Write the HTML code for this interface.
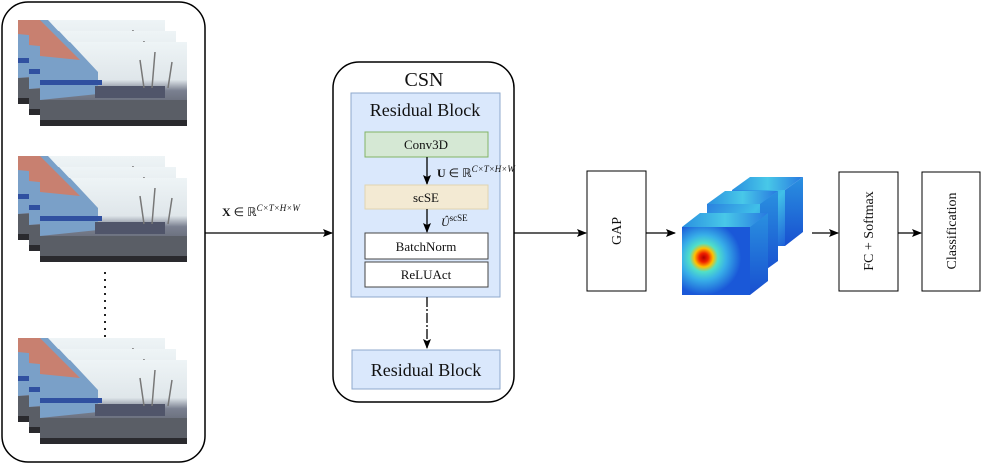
<!DOCTYPE html>
<html><head><meta charset="utf-8"><style>
html,body{margin:0;padding:0;background:#fff}
svg{display:block}
text{font-family:"Liberation Serif",serif;fill:#111}
</style></head><body>
<svg width="982" height="464" viewBox="0 0 982 464" xmlns="http://www.w3.org/2000/svg">
<defs>
<linearGradient id="sky" x1="0" y1="0" x2="0" y2="1">
<stop offset="0" stop-color="#eef4f6"/><stop offset="0.45" stop-color="#dfe6ea"/><stop offset="0.58" stop-color="#7a8090"/><stop offset="1" stop-color="#4a4d55"/>
</linearGradient>
<radialGradient id="hot" cx="0.32" cy="0.45" r="0.55">
<stop offset="0" stop-color="#b00000"/><stop offset="0.12" stop-color="#f02000"/><stop offset="0.25" stop-color="#ffc000"/><stop offset="0.38" stop-color="#50e0c8"/><stop offset="0.6" stop-color="#38b0e8"/><stop offset="1" stop-color="#1a58d8"/>
</radialGradient>
<linearGradient id="cf" x1="0" y1="0" x2="1" y2="1">
<stop offset="0" stop-color="#2a80e0"/><stop offset="0.5" stop-color="#40c0e8"/><stop offset="1" stop-color="#1e60d8"/>
</linearGradient>
<linearGradient id="ct" x1="0" y1="0" x2="1" y2="0">
<stop offset="0" stop-color="#2a90e0"/><stop offset="0.5" stop-color="#48c8e8"/><stop offset="1" stop-color="#2878e0"/>
</linearGradient>
<linearGradient id="cs" x1="0" y1="0" x2="0" y2="1">
<stop offset="0" stop-color="#2a90e0"/><stop offset="1" stop-color="#1850d0"/>
</linearGradient>
<g id="img">
<rect width="147" height="84" fill="url(#sky)"/>
<polygon points="0,0 30,0 58,30 58,52 0,58" fill="#7aa0c8"/>
<polygon points="0,0 22,0 40,18 0,14" fill="#c88070"/>
<rect x="0" y="38" width="62" height="5" fill="#3050a0"/>
<rect x="55" y="44" width="70" height="12" fill="#50556a"/>
<rect x="0" y="58" width="147" height="22" fill="#5a5e66"/>
<rect x="0" y="78" width="147" height="6" fill="#2a2a2e"/>
<path d="M100 18 L104 46 M115 10 L112 46 M132 20 L128 46" stroke="#777" stroke-width="1.5"/>
</g>
<g id="stack">
<use href="#img" x="18" y="0"/><use href="#img" x="29" y="11"/><use href="#img" x="40" y="22"/>
</g>
<marker id="ar" markerWidth="10" markerHeight="8" refX="9" refY="4" orient="auto" markerUnits="userSpaceOnUse">
<path d="M0,0 L10,4 L0,8 L2,4 z" fill="#000"/></marker>
</defs>

<rect x="2" y="2" width="203" height="460" rx="26" fill="#fff" stroke="#000" stroke-width="1.5"/>
<use href="#stack" y="20"/>
<use href="#stack" y="156"/>
<use href="#stack" y="338"/>
<line x1="105" y1="272" x2="105" y2="338" stroke="#222" stroke-width="2" stroke-dasharray="2,5"/>

<line x1="205" y1="233" x2="332" y2="233" stroke="#000" stroke-width="1.3" marker-end="url(#ar)"/>
<text x="222" y="216" font-size="12"><tspan font-weight="bold">X</tspan> ∈ ℝ<tspan font-size="9" dy="-5" font-style="italic">C×T×H×W</tspan></text>

<rect x="333" y="62" width="181" height="340" rx="26" fill="#fff" stroke="#000" stroke-width="1.5"/>
<text x="424" y="86" font-size="20" text-anchor="middle">CSN</text>
<rect x="351" y="93" width="149" height="204" fill="#dae8fc" stroke="#8fa9cc" stroke-width="1"/>
<text x="425" y="116" font-size="18" text-anchor="middle">Residual Block</text>
<rect x="365" y="132" width="123" height="25" fill="#d5e8d4" stroke="#82b366"/>
<text x="426" y="149" font-size="13" text-anchor="middle">Conv3D</text>
<line x1="427" y1="157" x2="427" y2="184" stroke="#000" stroke-width="1.3" marker-end="url(#ar)"/>
<text x="437" y="177" font-size="12"><tspan font-weight="bold">U</tspan> ∈ ℝ<tspan font-size="9" dy="-5" font-style="italic">C×T×H×W</tspan></text>
<rect x="365" y="185" width="123" height="24" fill="#f3ead3" stroke="#e0d4b0"/>
<text x="426" y="202" font-size="13" text-anchor="middle">scSE</text>
<line x1="427" y1="209" x2="427" y2="232" stroke="#000" stroke-width="1.3" marker-end="url(#ar)"/>
<text x="441" y="226" font-size="12" font-style="italic">Û<tspan font-size="9" dy="-5" font-style="normal">scSE</tspan></text>
<rect x="365" y="233" width="123" height="26" fill="#fff" stroke="#444"/>
<text x="426" y="251" font-size="13" text-anchor="middle">BatchNorm</text>
<rect x="365" y="262" width="123" height="25" fill="#fff" stroke="#444"/>
<text x="426" y="279" font-size="13" text-anchor="middle">ReLUAct</text>
<line x1="427" y1="297" x2="427" y2="348" stroke="#000" stroke-width="1.3" stroke-dasharray="10,2,2,2" marker-end="url(#ar)"/>
<rect x="352" y="350" width="148" height="39" fill="#dae8fc" stroke="#8fa9cc"/>
<text x="426" y="376" font-size="18" text-anchor="middle">Residual Block</text>

<line x1="514" y1="233" x2="586" y2="233" stroke="#000" stroke-width="1.3" marker-end="url(#ar)"/>
<rect x="587" y="171" width="59" height="120" fill="#fff" stroke="#000"/>
<text transform="translate(621,231) rotate(-90)" font-size="14" text-anchor="middle">GAP</text>
<line x1="646" y1="233" x2="675" y2="233" stroke="#000" stroke-width="1.3" marker-end="url(#ar)"/>

<g>
<polygon points="732,190 750,177 803,177 785,190" fill="url(#ct)"/>
<polygon points="785,190 803,177 803,232 785,246" fill="url(#cs)"/>
<rect x="732" y="190" width="53" height="56" fill="url(#cf)"/>
</g>
<g>
<polygon points="707,204 725,191 778,191 760,204" fill="url(#ct)"/>
<polygon points="760,204 778,191 778,261 760,274" fill="url(#cs)"/>
<rect x="707" y="204" width="53" height="70" fill="url(#cf)"/>
</g>
<g>
<polygon points="682,227 700,213 768,213 750,227" fill="url(#ct)"/>
<polygon points="750,227 768,213 768,281 750,295" fill="url(#cs)"/>
<rect x="682" y="227" width="68" height="68" fill="url(#hot)"/>
</g>

<line x1="812" y1="233" x2="838" y2="233" stroke="#000" stroke-width="1.3" marker-end="url(#ar)"/>
<rect x="839" y="172" width="59" height="119" fill="#fff" stroke="#000"/>
<text transform="translate(873,231) rotate(-90)" font-size="14" text-anchor="middle">FC + Softmax</text>
<line x1="898" y1="233" x2="921" y2="233" stroke="#000" stroke-width="1.3" marker-end="url(#ar)"/>
<rect x="922" y="172" width="58" height="119" fill="#fff" stroke="#000"/>
<text transform="translate(956,231) rotate(-90)" font-size="14" text-anchor="middle">Classification</text>
</svg>
</body></html>
